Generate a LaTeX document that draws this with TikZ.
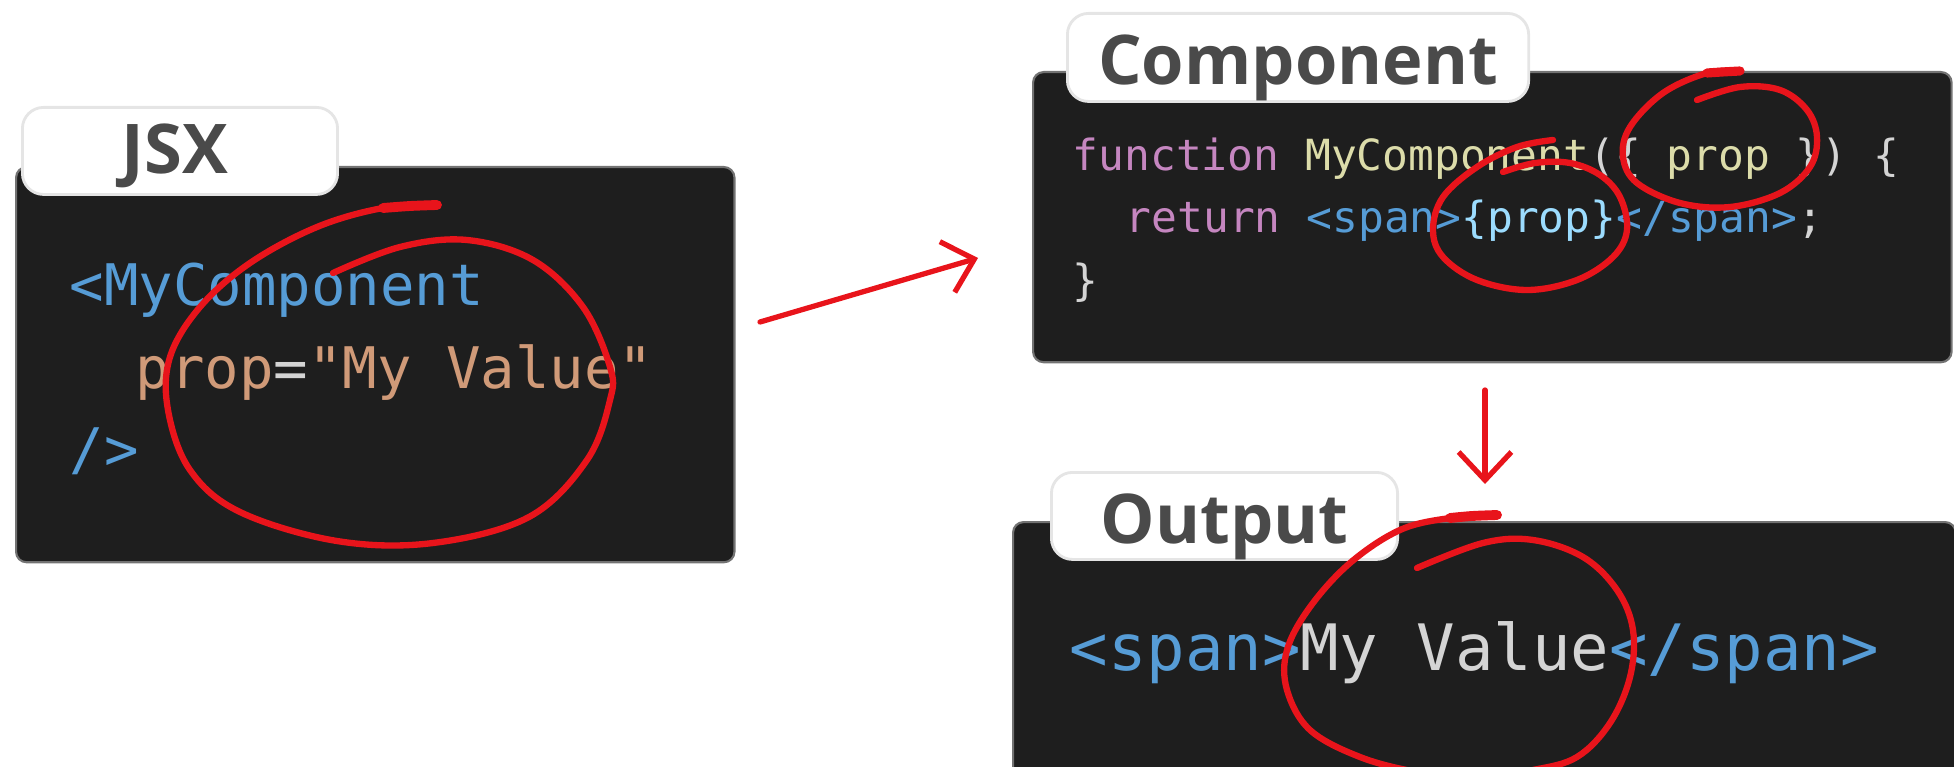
\documentclass[tikz,border=0pt]{standalone}
\usepackage{fontspec}
\usepackage{xcolor}
\usetikzlibrary{arrows.meta,positioning}
\newfontfamily\codefont{DejaVu Sans Mono}
\newfontfamily\tabfont{Open Sans}
\definecolor{codeBg}{HTML}{1E1E1E}
\definecolor{tagBlue}{HTML}{569CD6}
\definecolor{attrTan}{HTML}{D09A78}
\definecolor{kwPink}{HTML}{C586C0}
\definecolor{fnYellow}{HTML}{DCDCAA}
\definecolor{varBlue}{HTML}{9CDCFE}
\definecolor{plainGray}{HTML}{D4D4D4}
\definecolor{tabGray}{HTML}{4A4A4A}
\definecolor{markRed}{HTML}{E8141B}
\tikzset{
  codebox/.style={fill=codeBg, draw=black!55, line width=0.6pt, rounded corners=3pt,
    inner sep=0pt, anchor=north west},
  tabbox/.style={fill=white, draw=black!10, line width=0.8pt, rounded corners=6pt,
    inner sep=0pt, anchor=north west},
  tablabel/.style={inner sep=0pt, text=tabGray,
    font=\tabfont\bfseries\fontsize{19.5}{19.5}\selectfont},
  codeline/.style={anchor=base west, inner sep=0pt, font=\codefont},
  scribble/.style={draw=markRed, line width=1.8pt, line cap=round, line join=round},
  pointer/.style={draw=markRed, line width=1.5pt, line cap=round,
    -{Straight Barb[length=8pt,width=15pt,line width=1.5pt]}},
}

\begin{document}
\begin{tikzpicture}[x=0.01cm,y=-0.01cm]
\useasboundingbox (0,0) rectangle (1954,767);
\clip (0,0) rectangle (1954,767);

% jsx panel
\node[codebox, minimum width=7.18cm, minimum height=3.95cm] (jsx) at (15,166) {};
\node[tabbox, minimum width=3.15cm, minimum height=0.87cm] (jsxtab) at (21,106) {};
\node[tablabel] (jsxlabel) at ([xshift=-0.05cm, yshift=-0.05cm]jsxtab.center) {JSX};
\node[codeline, font=\codefont\fontsize{16.3}{16.3}\selectfont, text=tagBlue] (jsxa) at (69,305) {<MyComponent};
\node[codeline, font=\codefont\fontsize{16.3}{16.3}\selectfont] (jsxb) at (135,389)
  {\textcolor{attrTan}{prop}\textcolor{plainGray}{=}\textcolor{attrTan}{"My Value"}};
\node[codeline, font=\codefont\fontsize{16.3}{16.3}\selectfont, text=tagBlue] (jsxc) at (69,469) {/>};

% component panel
\node[codebox, minimum width=9.18cm, minimum height=2.90cm] (comp) at (1032,71) {};
\node[tabbox, minimum width=4.61cm, minimum height=0.88cm] (comptab) at (1066,12) {};
\node[tablabel] (complabel) at ([yshift=-0.1cm]comptab.center) {Component};
\node[codeline, font=\codefont\fontsize{12.2}{12.2}\selectfont] (compa) at (1072,171)
  {\textcolor{kwPink}{function} \textcolor{fnYellow}{MyComponent}\textcolor{plainGray}{(\{} \textcolor{fnYellow}{prop} \textcolor{plainGray}{\}) \{}};
\node[codeline, font=\codefont\fontsize{12.2}{12.2}\selectfont] (compb) at (1125,233)
  {\textcolor{kwPink}{return} \textcolor{tagBlue}{<span>}\textcolor{varBlue}{\{prop\}}\textcolor{tagBlue}{</span>}\textcolor{plainGray}{;}};
\node[codeline, font=\codefont\fontsize{12.2}{12.2}\selectfont, text=plainGray] (compc) at (1072,295) {\}};

% output panel
\node[codebox, minimum width=9.42cm, minimum height=2.6cm] (out) at (1012,521) {};
\node[tabbox, minimum width=3.46cm, minimum height=0.87cm] (outtab) at (1050,471) {};
\node[tablabel] (outlabel) at ([yshift=-0.11cm]outtab.center) {Output};
\node[codeline, font=\codefont\fontsize{18.2}{18.2}\selectfont] (outa) at (1069,670)
  {\textcolor{tagBlue}{<span>}\textcolor{plainGray}{My Value}\textcolor{tagBlue}{</span>}};

% arrows
\coordinate (jsxout) at (760,322);
\coordinate (compin) at (978,258);
\coordinate (compout) at (1485,390);
\coordinate (outin) at (1485,484);
\draw[pointer] (jsxout) -- (compin);
\draw[pointer] (compout) -- (outin);

% red marks
\draw[scribble] plot[smooth, tension=0.6] coordinates {(437,205) (383,208) (317,227) (250,263)
  (200,307) (170,357) (168,410) (190,470) (240,512) (337,541) (433,543) (529,517) (587,460)
  (610,400) (610,367) (583,307) (533,260) (467,240) (400,247) (333,273)};
\draw[scribble, line width=2.8pt] plot[smooth] coordinates {(437,205) (410,206) (383,208)};

\draw[scribble] plot[smooth, tension=0.6] coordinates {(1740,71) (1707,73) (1663,93) (1630,127)
  (1623,157) (1637,183) (1680,203) (1730,207) (1780,193) (1810,167) (1817,137) (1807,110)
  (1780,90) (1740,87) (1697,100)};
\draw[scribble, line width=2.6pt] plot[smooth] coordinates {(1740,71) (1722,72) (1707,73)};

\draw[scribble] plot[smooth, tension=0.6] coordinates {(1553,140) (1517,147) (1477,167) (1443,197)
  (1433,230) (1443,257) (1477,280) (1527,290) (1577,280) (1613,257) (1627,230) (1620,197)
  (1600,175) (1570,163) (1535,163) (1503,172)};

\draw[scribble] plot[smooth, tension=0.6] coordinates {(1497,515) (1450,518) (1400,530) (1350,563)
  (1310,607) (1287,650) (1287,690) (1310,730) (1360,757) (1417,772) (1475,778) (1533,770)
  (1577,757) (1610,723) (1630,677) (1633,630) (1617,590) (1583,557) (1533,540) (1483,543)
  (1417,568)};
\draw[scribble, line width=2.8pt] plot[smooth] coordinates {(1497,515) (1472,516) (1450,518)};
\end{tikzpicture}
\end{document}
